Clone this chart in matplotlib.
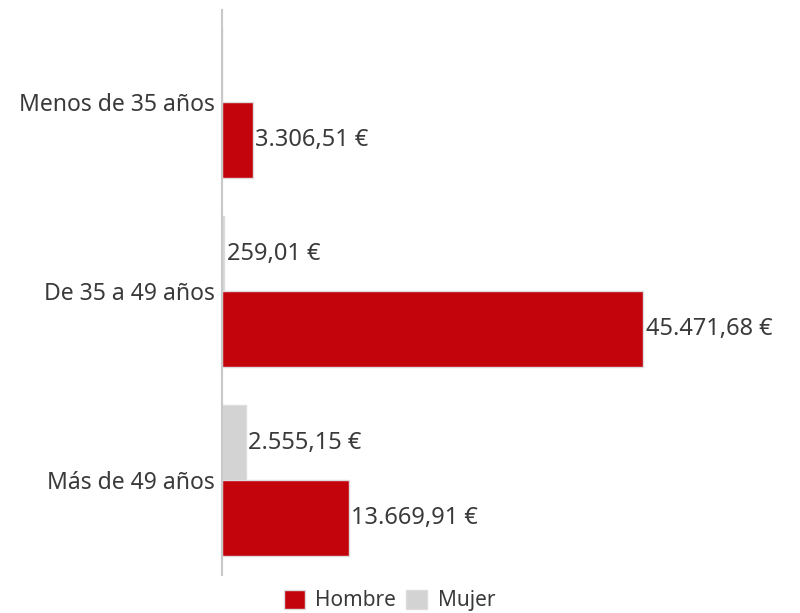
import numpy as np
import matplotlib.pyplot as plt
from matplotlib.patches import Patch

plt.rcParams['font.family'] = ['Noto Sans', 'DejaVu Sans']

categorias = ['Menos de 35 años', 'De 35 a 49 años', 'Más de 49 años']
hombre = [3306.51, 45471.68, 13669.91]
mujer = [0, 259.01, 2555.15]

rojo = '#c4040c'
gris = '#d3d3d3'
texto = '#3a3a3a'


def euros(v):
    s = f'{v:,.2f}'.replace(',', 'X').replace('.', ',').replace('X', '.')
    return s + ' €'


fig = plt.figure(figsize=(8, 6.13), dpi=100)
ax = fig.add_axes([0.2775, 0.062, 0.70, 0.922])

y = np.arange(len(categorias))
h = 0.40
ax.barh(y - h / 2, mujer, height=h, color=gris, edgecolor='#dcdcdc', linewidth=1)
ax.barh(y + h / 2, hombre, height=h, color=rojo, edgecolor='#dcdcdc', linewidth=1)

for yi, v in zip(y, mujer):
    if v > 0:
        ax.text(v + 300, yi - h / 2, euros(v), va='center', ha='left',
                fontsize=17, color=texto)
for yi, v in zip(y, hombre):
    ax.text(v + 300, yi + h / 2, euros(v), va='center', ha='left',
            fontsize=17, color=texto)

xmax = 45471.68 * (0.70 * 800) / 421
ax.set_xlim(0, xmax)
ax.set_ylim(2.5, -0.49)
ax.set_yticks(y)
ax.set_yticklabels(categorias, fontsize=16.5, color=texto)
ax.tick_params(axis='y', length=0, pad=5)
ax.set_xticks([])

for s in ['top', 'right', 'bottom']:
    ax.spines[s].set_visible(False)
ax.spines['left'].set_color('#c8c8c8')
ax.spines['left'].set_linewidth(1.5)

handles = [Patch(facecolor=rojo, edgecolor='#dcdcdc', label='Hombre'),
           Patch(facecolor=gris, edgecolor='#dcdcdc', label='Mujer')]
fig.legend(handles=handles, loc='center', bbox_to_anchor=(0.487, 0.02),
           ncol=2, frameon=False, fontsize=15, handlelength=1.0, handleheight=1.0,
           handletextpad=0.5, columnspacing=0.5, labelcolor=texto)

fig.savefig('out.png', dpi=100)
